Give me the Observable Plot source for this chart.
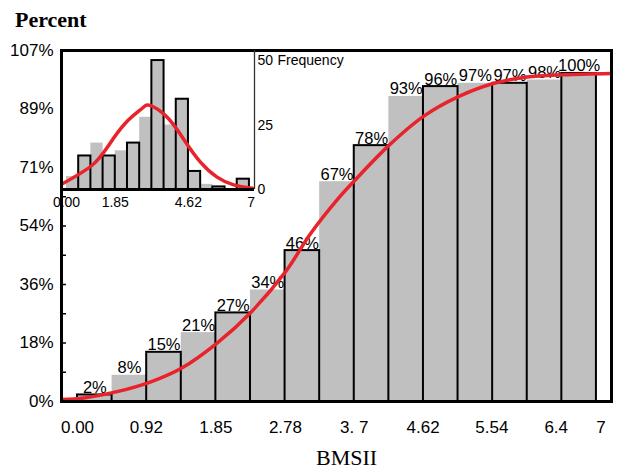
<!DOCTYPE html>
<html><head><meta charset="utf-8">
<script src="https://cdn.jsdelivr.net/npm/d3@7"></script>
<script src="https://cdn.jsdelivr.net/npm/@observablehq/plot@0.6"></script>
<style>
body{margin:0;background:#fff;}
#wrap{position:relative;width:619px;height:472px;overflow:hidden;font-family:"Liberation Sans",Arial,sans-serif;}
#wrap svg{position:absolute;left:0;top:0;}
.t{position:absolute;font-family:"Liberation Serif","Times New Roman",serif;font-size:22px;line-height:18px;white-space:nowrap;color:#000;}
</style></head><body>
<div id="wrap">
<div class="t" style="left:15px;top:11px;font-weight:bold;">Percent</div>
<div class="t" style="left:316px;top:449px;">BMSII</div>
</div>
<script>
// ---- data ----
const binWidth = 0.4625;
const cumulativePercent = [2, 8, 15, 21, 27, 34, 46, 67, 78, 93, 96, 97, 97, 98, 100];
const frequency = [5, 13, 18, 13, 15, 18, 28, 50, 25, 35, 7, 2, 1, 0, 4];
const xTickValues = [0, 0.92, 1.85, 2.78, 3.7, 4.62, 5.54, 6.4, 7];
const xTickLabels = ["0.00", "0.92", "1.85", "2.78", "3. 7", "4.62", "5.54", "6.4", "7"];
const yTickLabels = ["0%", "18%", "36%", "54%", "71%", "89%", "107%"];
const insetXTickValues = [0, 1.85, 4.62, 7];
const insetXTickLabels = ["0.00", "1.85", "4.62", "7"];
const freqTicks = [0, 25, 50];
// fitted cumulative curve
const cdfX = [-0.21, 0.085, 0.53, 0.98, 1.40, 1.87, 2.31, 2.78, 3.11, 3.49, 3.69, 4.16, 4.63, 5.10, 5.57, 6.01, 6.50, 7.14];
const cdfY = [0.6, 1.1, 3.0, 6.0, 10.3, 17.9, 27.0, 39.5, 51.0, 62.0, 67.0, 78.0, 87.0, 93.0, 97.0, 98.9, 99.6, 100];
// fitted density curve in inset
const pdfX = [-0.19, 0.96, 1.59, 2.23, 2.85, 3.17, 3.82, 4.45, 5.08, 5.71, 6.34, 7.05];
const pdfY = [2.0, 9.3, 17.0, 25.7, 31.3, 32.6, 28.0, 19.4, 10.6, 4.8, 1.8, 0.5];

// ---- derived tables ----
const bins = cumulativePercent.map((p, i) => ({i, x1: i * binWidth, x2: (i + 1) * binWidth, pct: p, freq: frequency[i]}));
const cdf = cdfX.map((x, i) => ({x, y: cdfY[i]}));
const pdf = pdfX.map((x, i) => ({x, y: pdfY[i]}));
const yMax = 107;
const yMajor = yTickLabels.map((_, i) => i * yMax / 6);
const yMinor = d3.range(13).map(i => i * yMax / 12);
const yLabelMap = new Map(yMajor.map((v, i) => [v, yTickLabels[i]]));
const xLabelMap = new Map(xTickValues.map((v, i) => [v, xTickLabels[i]]));
const insetLabelMap = new Map(insetXTickValues.map((v, i) => [v, insetXTickLabels[i]]));

const RED = "#e8232b", GREY = "#c0c0c0";
const mainOutlined = new Set([0, 2, 4, 6, 8, 10, 12, 14]);
const insetOutlined = new Set([1, 3, 5, 7, 9, 10, 12, 14]);
const font = "Liberation Sans, Arial, sans-serif";

const W = 619, H = 472, ML = 61, MR = 8, MT = 50, MB = 71;
const xDomain = [-0.214, 7.139];
const main = Plot.plot({
  width: W, height: H,
  marginLeft: ML, marginRight: MR, marginTop: MT, marginBottom: MB,
  style: {background: "transparent", fontFamily: font, fontSize: "17px", color: "black"},
  x: {domain: xDomain, ticks: xTickValues, tickSize: 0, tickPadding: 19, tickFormat: d => xLabelMap.get(d), label: null},
  y: {domain: [0, yMax], ticks: yMajor, tickSize: 0, tickPadding: 8, tickFormat: d => yLabelMap.get(d), label: null},
  marks: [
    Plot.rect(bins, {x1: "x1", x2: "x2", y1: 0, y2: "pct", fill: GREY, inset: 0}),
    Plot.rect(bins.filter(d => mainOutlined.has(d.i)), {x1: "x1", x2: "x2", y1: 0, y2: "pct", fill: "none", stroke: "black", strokeWidth: 2, inset: 0}),
    Plot.text(bins, {x: d => (d.x1 + d.x2) / 2, y: "pct", text: d => d.pct + "%", dy: -2, lineAnchor: "bottom", fontSize: 16.5, fill: "black"}),
    Plot.line(cdf, {x: "x", y: "y", stroke: RED, strokeWidth: 3.5, curve: "catmull-rom", clip: true}),
    Plot.tickY(yMinor, {y: d => d, stroke: "black", strokeWidth: 1.5, insetRight: W - ML - MR - 5}),
    Plot.frame({stroke: "black", strokeWidth: 3})
  ]
});

const IW = 360, IH = 215, IML = 61, IMR = 106, IMT = 50, IMB = 26;
const insetXDomain = [-0.19, 7.13];
const insetYMax = 53.9;
const inset = Plot.plot({
  width: IW, height: IH,
  marginLeft: IML, marginRight: IMR, marginTop: IMT, marginBottom: IMB,
  style: {background: "transparent", fontFamily: font, fontSize: "14px", color: "black"},
  x: {domain: insetXDomain, ticks: insetXTickValues, tickSize: 0, tickPadding: 8, tickFormat: d => insetLabelMap.get(d), label: null},
  y: {domain: [0, insetYMax], axis: "right", ticks: freqTicks, tickSize: 0, tickPadding: 3, label: null},
  marks: [
    Plot.frame({fill: "white", stroke: "none"}),
    Plot.rect(bins, {x1: "x1", x2: "x2", y1: 0, y2: "freq", fill: GREY, inset: 0}),
    Plot.rect(bins.filter(d => insetOutlined.has(d.i) && d.freq > 0), {x1: "x1", x2: "x2", y1: 0, y2: "freq", fill: "none", stroke: "black", strokeWidth: 2, inset: 0}),
    Plot.line(pdf, {x: "x", y: "y", stroke: RED, strokeWidth: 3.5, curve: "natural", clip: true}),
    Plot.ruleX([insetXDomain[1]], {stroke: "#333", strokeWidth: 1.3}),
    Plot.ruleX([insetXDomain[0]], {stroke: "black", strokeWidth: 3}),
    Plot.ruleY([insetYMax], {stroke: "black", strokeWidth: 3}),
    Plot.ruleY([0], {stroke: "black", strokeWidth: 3}),
    Plot.text([freqTicks[freqTicks.length - 1]], {y: d => d, frameAnchor: "right", text: () => "Frequency", dx: 23, textAnchor: "start", fontSize: 14, fill: "black"})
  ]
});

const wrap = document.getElementById("wrap");
wrap.prepend(main);
wrap.appendChild(inset);
</script>
</body></html>
